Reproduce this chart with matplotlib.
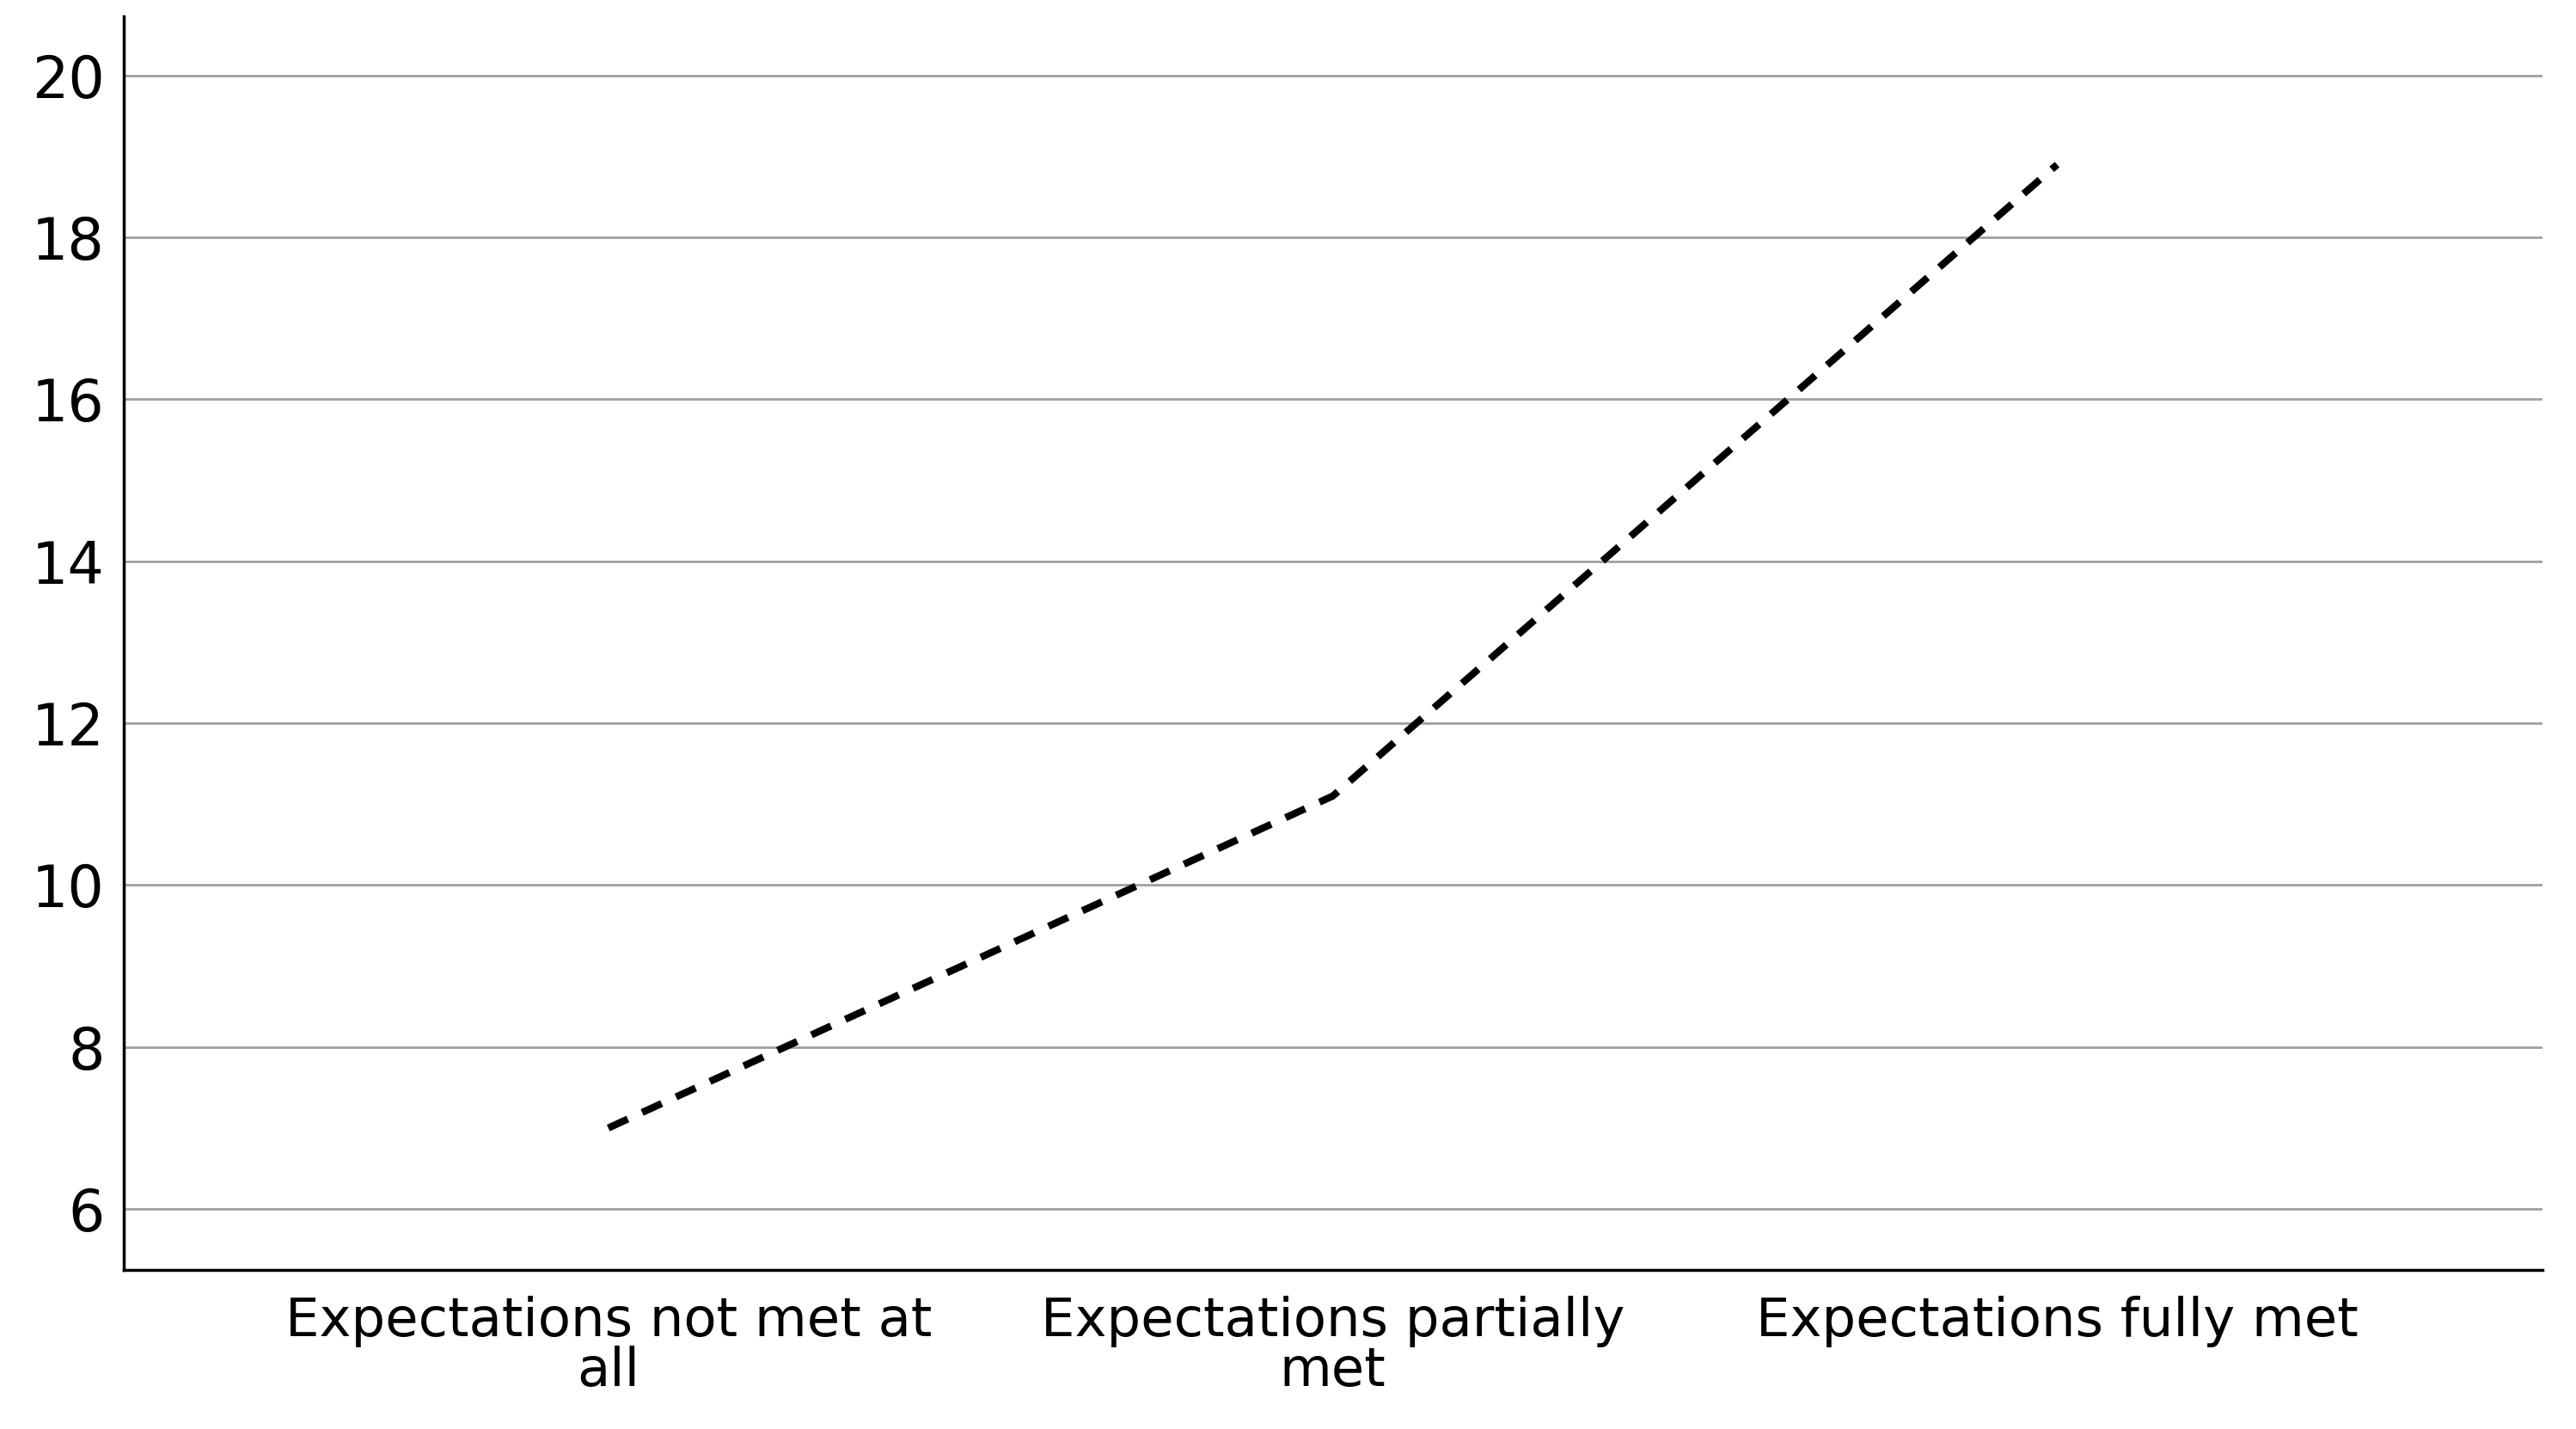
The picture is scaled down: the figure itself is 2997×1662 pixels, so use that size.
import matplotlib
matplotlib.use("Agg")
import matplotlib.pyplot as plt

categories = ["Expectations not met at\nall", "Expectations partially\nmet", "Expectations fully met"]
values = [7.0, 11.1, 18.9]
yticks = [6, 8, 10, 12, 14, 16, 18, 20]

plt.rcParams['font.family'] = ['DejaVu Sans']
fig = plt.figure(figsize=(29.97, 16.62), dpi=100)
ax = fig.add_axes([0.048, 0.1115, 0.939, 0.877])
ax.plot(range(len(categories)), values, color='black', linestyle=(0, (3, 2.2)), linewidth=6)
ax.set_xlim(-0.669, 2.67)
ax.set_ylim(5.25, 20.73)
ax.set_yticks(yticks)
ax.set_xticks(range(len(categories)))
ax.set_xticklabels(categories, fontsize=45, linespacing=0.95)
ax.tick_params(axis='y', labelsize=48, length=0, pad=16)
ax.tick_params(axis='x', length=0, pad=22)
ax.grid(axis='y', color='#a0a0a0', linewidth=2)
ax.set_axisbelow(True)
for s in ['top', 'right']:
    ax.spines[s].set_visible(False)
for s in ['left', 'bottom']:
    ax.spines[s].set_linewidth(2.5)
fig.savefig("out.png", dpi=100)
